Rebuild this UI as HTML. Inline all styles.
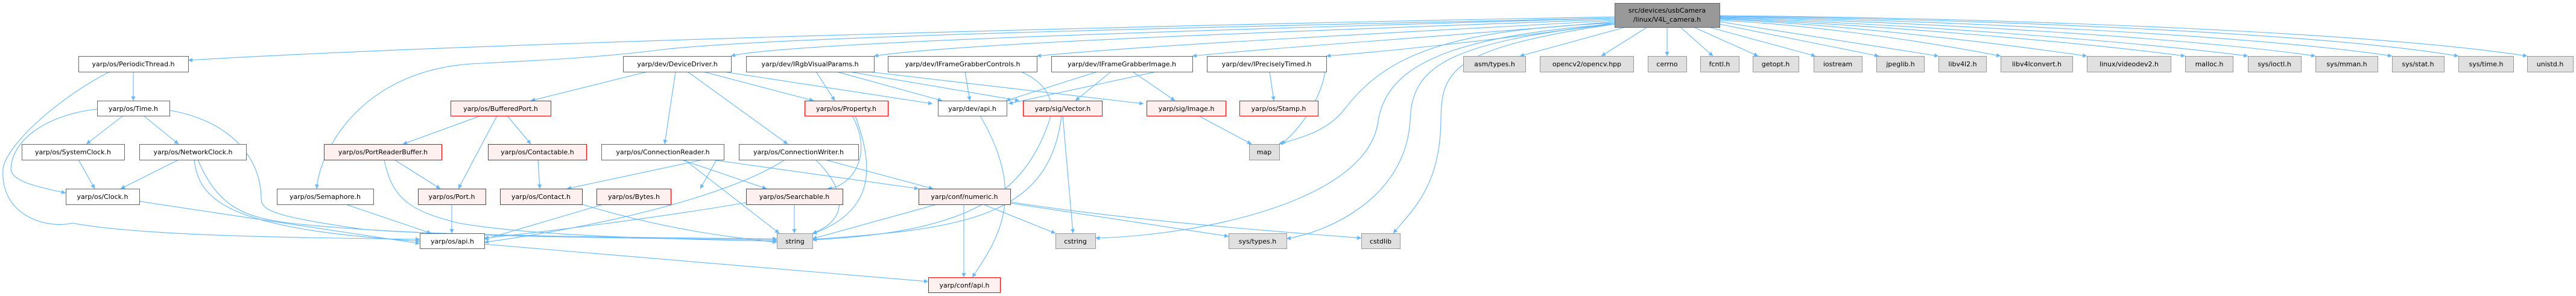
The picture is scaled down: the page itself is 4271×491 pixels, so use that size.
<!DOCTYPE html>
<html><head><meta charset="utf-8"><style>
html,body{margin:0;padding:0;background:#fff;}
svg{display:block;}
text{font-family:"DejaVu Sans","Liberation Sans",sans-serif;font-size:11px;fill:#000;text-anchor:middle;}
.e{fill:none;stroke:#63b8ff;stroke-width:1.1;marker-end:url(#a);}
.w{fill:#fff;stroke:#666;}
.r{fill:#fff0f0;stroke:#f00;}
.g{fill:#e0e0e0;stroke:#999;}
</style></head><body>
<svg width="4271" height="491" viewBox="0 0 4271 491" xmlns="http://www.w3.org/2000/svg">
<defs><marker id="a" viewBox="0 0 10 10" refX="10" refY="5" markerWidth="7" markerHeight="7" orient="auto" markerUnits="userSpaceOnUse"><path d="M0,0 L10,5 L0,10 z" fill="#63b8ff"/></marker></defs>
<g>
<path class="e" d="M2677,28 C2000,40 800,70 312,100"/>
<path class="e" d="M2677,30 C2000,45 1300,60 1100,82 C1000,95 900,100 800,105 C600,110 530,250 525,313"/>
<path class="e" d="M2677,30 C2000,50 1300,70 1212,93"/>
<path class="e" d="M2677,32 C2200,50 1600,70 1449,93"/>
<path class="e" d="M2677,34 C2300,55 1900,75 1719,93"/>
<path class="e" d="M2677,36 C2400,60 2100,80 1977,93"/>
<path class="e" d="M2677,38 C2500,65 2300,85 2199,93"/>
<path class="e" d="M2677,38 C2400,50 2300,90 2230,180 C2200,220 2150,230 2120,239"/>
<path class="e" d="M2677,40 C2400,60 2300,110 2285,200 C2270,330 2000,390 1816,395"/>
<path class="e" d="M2677,40 C2400,70 2340,110 2338,200 C2330,330 2200,385 2133,396"/>
<path class="e" d="M2677,40 C2400,80 2390,120 2389,200 C2388,310 2340,350 2310,387"/>
<path class="e" d="M2695,45 L2520,93"/>
<path class="e" d="M2731,45 L2655,93"/>
<path class="e" d="M2764,45 L2764,93"/>
<path class="e" d="M2786,45 L2840,93"/>
<path class="e" d="M2808,45 L2915,93"/>
<path class="e" d="M2833,45 L3010,93"/>
<path class="e" d="M2851,40 L3115,93"/>
<path class="e" d="M2851,36 L3214,93"/>
<path class="e" d="M2851,34 C3000,40 3200,70 3317,93"/>
<path class="e" d="M2851,32 C3050,40 3300,70 3460,93"/>
<path class="e" d="M2851,31 C3100,40 3450,70 3623,93"/>
<path class="e" d="M2851,30 C3150,38 3550,70 3727,93"/>
<path class="e" d="M2851,29 C3200,36 3650,65 3839,93"/>
<path class="e" d="M2851,28 C3250,34 3750,60 3966,93"/>
<path class="e" d="M2851,27 C3300,32 3850,55 4076,93"/>
<path class="e" d="M2851,26 C3350,30 3950,55 4190,93"/>
<path class="e" d="M221,119 L221,167"/>
<path class="e" d="M182,119 C100,160 10,240 5,280 C0,360 80,380 120,370 C250,395 600,395 696,397"/>
<path class="e" d="M161,181 C80,190 20,230 18,280 C18,300 60,310 109,320"/>
<path class="e" d="M204,192 L143,239"/>
<path class="e" d="M238,192 L296,239"/>
<path class="e" d="M281,183 C380,200 433,260 433,330 C433,350 460,360 600,380 C700,390 1100,395 1288,396"/>
<path class="e" d="M130,265 L157,313"/>
<path class="e" d="M296,265 L200,313"/>
<path class="e" d="M322,265 C330,330 370,380 696,400"/>
<path class="e" d="M328,265 C360,340 400,360 480,370 C700,395 1100,395 1288,398"/>
<path class="e" d="M231,334 L696,404"/>
<path class="e" d="M573,339 L715,387"/>
<path class="e" d="M1073,119 L880,167"/>
<path class="e" d="M797,192 L668,239"/>
<path class="e" d="M824,192 L760,313"/>
<path class="e" d="M841,192 L880,239"/>
<path class="e" d="M654,265 L730,313"/>
<path class="e" d="M637,265 C650,330 680,350 760,370 C900,395 1200,398 1288,400"/>
<path class="e" d="M892,265 L895,313"/>
<path class="e" d="M749,339 L749,387"/>
<path class="e" d="M965,339 C1100,380 1200,392 1288,402"/>
<path class="e" d="M1000,339 L803,397"/>
<path class="e" d="M1120,119 L1102,239"/>
<path class="e" d="M1140,119 L1306,239"/>
<path class="e" d="M1166,119 L1349,167"/>
<path class="e" d="M1200,119 L1546,172"/>
<path class="e" d="M1165,265 L940,313"/>
<path class="e" d="M1188,265 L1161,313"/>
<path class="e" d="M1135,265 L1292,387"/>
<path class="e" d="M1130,265 L1271,313"/>
<path class="e" d="M1180,265 L1523,313"/>
<path class="e" d="M1301,265 C1250,300 1100,360 803,402"/>
<path class="e" d="M1352,265 C1390,300 1420,360 1347,387"/>
<path class="e" d="M1368,265 L1547,313"/>
<path class="e" d="M1353,119 L1384,167"/>
<path class="e" d="M1387,119 L1562,167"/>
<path class="e" d="M1408,119 L1690,167"/>
<path class="e" d="M1440,119 L1896,172"/>
<path class="e" d="M1600,119 L1608,167"/>
<path class="e" d="M1693,119 C1740,140 1745,170 1743,190 C1700,330 1600,385 1347,398"/>
<path class="e" d="M1819,119 L1668,167"/>
<path class="e" d="M1842,119 L1783,167"/>
<path class="e" d="M1878,119 L1948,167"/>
<path class="e" d="M1917,119 L1672,172"/>
<path class="e" d="M2105,119 L2112,167"/>
<path class="e" d="M1413,192 C1450,260 1410,310 1372,313"/>
<path class="e" d="M1418,192 C1450,280 1450,350 1347,388"/>
<path class="e" d="M1625,192 C1700,320 1660,390 1612,460"/>
<path class="e" d="M1760,192 C1740,360 1600,380 1347,397"/>
<path class="e" d="M1762,192 L1779,387"/>
<path class="e" d="M1987,192 L2075,239"/>
<path class="e" d="M2199,93 C2200,160 2150,220 2124,239"/>
<path class="e" d="M1317,339 L1317,387"/>
<path class="e" d="M1237,336 C1100,360 900,385 803,395"/>
<path class="e" d="M1553,339 L1347,396"/>
<path class="e" d="M1598,339 L1598,460"/>
<path class="e" d="M1630,339 L1750,387"/>
<path class="e" d="M1675,337 L2037,392"/>
<path class="e" d="M1675,335 C1900,370 2200,390 2257,395"/>
<path class="e" d="M803,405 L1539,467"/>
</g>
<g>
<rect x="2677.5" y="5.5" width="174" height="40" style="fill:#999;stroke:#666"/><text x="2764" y="21">src/devices/usbCamera</text><text x="2764" y="36">/linux/V4L_camera.h</text>

<rect class="w" x="130.5" y="93.5" width="182" height="26"/><text x="221" y="110">yarp/os/PeriodicThread.h</text>
<rect class="w" x="1033.5" y="93.5" width="179" height="26"/><text x="1123" y="110">yarp/dev/DeviceDriver.h</text>
<rect class="w" x="1237.5" y="93.5" width="212" height="26"/><text x="1343" y="110">yarp/dev/IRgbVisualParams.h</text>
<rect class="w" x="1472.5" y="93.5" width="247" height="26"/><text x="1596" y="110">yarp/dev/IFrameGrabberControls.h</text>
<rect class="w" x="1743.5" y="93.5" width="234" height="26"/><text x="1860" y="110">yarp/dev/IFrameGrabberImage.h</text>
<rect class="w" x="2001.5" y="93.5" width="198" height="26"/><text x="2100" y="110">yarp/dev/IPreciselyTimed.h</text>
<rect class="g" x="2426.5" y="93.5" width="103" height="26"/><text x="2478" y="110">asm/types.h</text>
<rect class="g" x="2553.5" y="93.5" width="155" height="26"/><text x="2631" y="110">opencv2/opencv.hpp</text>
<rect class="g" x="2732.5" y="93.5" width="64" height="26"/><text x="2764" y="110">cerrno</text>
<rect class="g" x="2819.5" y="93.5" width="64" height="26"/><text x="2851" y="110">fcntl.h</text>
<rect class="g" x="2906.5" y="93.5" width="76" height="26"/><text x="2944" y="110">getopt.h</text>
<rect class="g" x="3007.5" y="93.5" width="80" height="26"/><text x="3047" y="110">iostream</text>
<rect class="g" x="3111.5" y="93.5" width="79" height="26"/><text x="3151" y="110">jpeglib.h</text>
<rect class="g" x="3214.5" y="93.5" width="79" height="26"/><text x="3254" y="110">libv4l2.h</text>
<rect class="g" x="3317.5" y="93.5" width="119" height="26"/><text x="3377" y="110">libv4lconvert.h</text>
<rect class="g" x="3460.5" y="93.5" width="139" height="26"/><text x="3530" y="110">linux/videodev2.h</text>
<rect class="g" x="3623.5" y="93.5" width="79" height="26"/><text x="3663" y="110">malloc.h</text>
<rect class="g" x="3727.5" y="93.5" width="88" height="26"/><text x="3771" y="110">sys/ioctl.h</text>
<rect class="g" x="3839.5" y="93.5" width="103" height="26"/><text x="3891" y="110">sys/mman.h</text>
<rect class="g" x="3966.5" y="93.5" width="86" height="26"/><text x="4009" y="110">sys/stat.h</text>
<rect class="g" x="4076.5" y="93.5" width="91" height="26"/><text x="4122" y="110">sys/time.h</text>
<rect class="g" x="4190.5" y="93.5" width="76" height="26"/><text x="4228" y="110">unistd.h</text>

<rect class="w" x="161.5" y="167.5" width="120" height="25"/><text x="221" y="184">yarp/os/Time.h</text>
<rect class="r" x="747.5" y="167.5" width="166" height="25"/><text x="830" y="184">yarp/os/BufferedPort.h</text>
<rect class="r" x="1334.5" y="167.5" width="138" height="25"/><text x="1403" y="184">yarp/os/Property.h</text>
<rect class="w" x="1555.5" y="167.5" width="114" height="25"/><text x="1612" y="184">yarp/dev/api.h</text>
<rect class="r" x="1696.5" y="167.5" width="131" height="25"/><text x="1762" y="184">yarp/sig/Vector.h</text>
<rect class="r" x="1901.5" y="167.5" width="131" height="25"/><text x="1967" y="184">yarp/sig/Image.h</text>
<rect class="r" x="2055.5" y="167.5" width="130" height="25"/><text x="2120" y="184">yarp/os/Stamp.h</text>

<rect class="w" x="36.5" y="239.5" width="170" height="26"/><text x="121" y="256">yarp/os/SystemClock.h</text>
<rect class="w" x="231.5" y="239.5" width="177" height="26"/><text x="320" y="256">yarp/os/NetworkClock.h</text>
<rect class="r" x="537.5" y="239.5" width="195" height="26"/><text x="635" y="256">yarp/os/PortReaderBuffer.h</text>
<rect class="r" x="809.5" y="239.5" width="163" height="26"/><text x="891" y="256">yarp/os/Contactable.h</text>
<rect class="w" x="997.5" y="239.5" width="203" height="26"/><text x="1099" y="256">yarp/os/ConnectionReader.h</text>
<rect class="w" x="1225.5" y="239.5" width="198" height="26"/><text x="1324" y="256">yarp/os/ConnectionWriter.h</text>
<rect class="g" x="2071.5" y="239.5" width="50" height="26"/><text x="2096" y="256">map</text>

<rect class="w" x="109.5" y="313.5" width="122" height="26"/><text x="170" y="330">yarp/os/Clock.h</text>
<rect class="w" x="459.5" y="313.5" width="160" height="26"/><text x="539" y="330">yarp/os/Semaphore.h</text>
<rect class="r" x="693.5" y="313.5" width="112" height="26"/><text x="749" y="330">yarp/os/Port.h</text>
<rect class="r" x="829.5" y="313.5" width="136" height="26"/><text x="897" y="330">yarp/os/Contact.h</text>
<rect class="r" x="989.5" y="313.5" width="123" height="26"/><text x="1051" y="330">yarp/os/Bytes.h</text>
<rect class="r" x="1237.5" y="313.5" width="160" height="26"/><text x="1317" y="330">yarp/os/Searchable.h</text>
<rect class="r" x="1523.5" y="313.5" width="152" height="26"/><text x="1599" y="330">yarp/conf/numeric.h</text>

<rect class="w" x="696.5" y="387.5" width="107" height="25"/><text x="750" y="404">yarp/os/api.h</text>
<rect class="g" x="1288.5" y="387.5" width="59" height="25"/><text x="1318" y="404">string</text>
<rect class="g" x="1750.5" y="387.5" width="66" height="25"/><text x="1783" y="404">cstring</text>
<rect class="g" x="2037.5" y="387.5" width="96" height="25"/><text x="2085" y="404">sys/types.h</text>
<rect class="g" x="2257.5" y="387.5" width="64" height="25"/><text x="2289" y="404">cstdlib</text>

<rect class="r" x="1539.5" y="460.5" width="119" height="25"/><text x="1599" y="477">yarp/conf/api.h</text>
</g>
</svg>
</body></html>
